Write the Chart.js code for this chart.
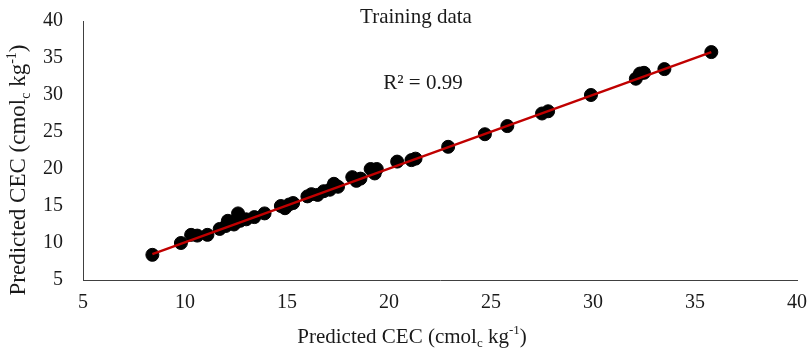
<!DOCTYPE html>
<html lang="en">
<head>
    <meta charset="UTF-8">
    <title>Training data</title>
    <script src="https://cdn.jsdelivr.net/npm/chart.js"></script>
    <style>
      * { margin: 0; padding: 0; }
      body { background: #fff; }
      .chartBox { width: 812px; height: 353px; }
    </style>
</head>
<body>
  <div class="chartBox">
    <canvas id="myChart" width="812" height="353"></canvas>
  </div>
  <script>
    const observed = [8.4, 9.8, 10.3, 10.6, 11.1, 11.7, 12.0, 12.1, 12.4, 12.6, 12.7, 13.0, 13.4, 13.9,
      14.7, 14.9, 15.1, 15.3, 16.0, 16.2, 16.5, 16.8, 17.1, 17.3, 17.5, 18.2, 18.4, 18.6, 19.1, 19.3,
      19.4, 20.4, 21.1, 21.3, 22.9, 24.7, 25.8, 27.5, 27.8, 29.9, 32.1, 32.3, 32.5, 33.5, 35.8];
    const predicted = [8.4, 10.0, 11.1, 11.0, 11.1, 11.9, 12.3, 13.0, 12.5, 14.0, 13.0, 13.2, 13.5, 14.0,
      15.0, 14.7, 15.2, 15.4, 16.3, 16.6, 16.5, 17.0, 17.2, 18.0, 17.6, 18.9, 18.4, 18.7, 20.0, 19.4,
      20.0, 21.0, 21.2, 21.4, 23.0, 24.7, 25.8, 27.5, 27.8, 30.0, 32.2, 32.9, 33.0, 33.5, 35.8];

    // linear trendline end points
    const trendX = [8.4, 35.8];
    const trendY = [8.5, 35.8];

    const axisMin = 5;
    const axisMax = 40;
    const tickStep = 5;

    const serif = "'Liberation Serif', 'Times New Roman', serif";
    const textColor = '#1a1a1a';

    // draw text with sub / superscript pieces, centred on (x, y)
    function drawRich(ctx, parts, x, y, size) {
      const small = Math.round(size * 0.62);
      let total = 0;
      parts.forEach(p => {
        ctx.font = (p.sub || p.sup ? small : size) + 'px ' + serif;
        p.w = ctx.measureText(p.t).width;
        total += p.w;
      });
      let cx = x - total / 2;
      ctx.textAlign = 'left';
      ctx.textBaseline = 'middle';
      parts.forEach(p => {
        ctx.font = (p.sub || p.sup ? small : size) + 'px ' + serif;
        let dy = 0;
        if (p.sub) dy = size * 0.3;
        if (p.sup) dy = -size * 0.3;
        ctx.fillText(p.t, cx, y + dy);
        cx += p.w;
      });
    }

    const axisTitle = [
      { t: 'Predicted CEC (cmol' }, { t: 'c', sub: true }, { t: ' kg' }, { t: '-1', sup: true }, { t: ')' }
    ];

    const textPlugin = {
      id: 'textPlugin',
      afterDraw(chart) {
        const ctx = chart.ctx;
        ctx.save();
        ctx.fillStyle = textColor;
        ctx.textAlign = 'center';
        ctx.textBaseline = 'middle';
        ctx.font = '21px ' + serif;
        ctx.fillText('Training data', 416, 17);
        ctx.fillText('R² = 0.99', 423, 83);

        // x title
        drawRich(ctx, axisTitle, 412, 337, 21);

        // y title
        ctx.save();
        ctx.translate(19, 170);
        ctx.rotate(-Math.PI / 2);
        drawRich(ctx, axisTitle, 0, 0, 23);
        ctx.restore();
        ctx.restore();
      }
    };

    const points = observed.map((v, i) => ({ x: v, y: predicted[i] }));
    const trend = trendX.map((v, i) => ({ x: v, y: trendY[i] }));

    const config = {
      type: 'scatter',
      data: {
        datasets: [{
          label: 'Trend',
          data: trend,
          showLine: true,
          borderColor: '#c00000',
          borderWidth: 2.5,
          pointRadius: 0,
          order: 0
        }, {
          label: 'Training data',
          data: points,
          backgroundColor: '#000',
          borderColor: '#000',
          borderWidth: 1,
          pointRadius: 6.5,
          order: 1
        }]
      },
      options: {
        responsive: false,
        animation: false,
        layout: { padding: { left: 0, right: 15, top: 21, bottom: 0 } },
        plugins: {
          legend: { display: false },
          tooltip: { enabled: false }
        },
        scales: {
          x: {
            type: 'linear',
            min: axisMin,
            max: axisMax,
            // fixed axis band, no extra padding for end labels
            afterFit(scale) {
              scale.height = 73;
              scale.paddingLeft = 0;
              scale.paddingRight = 0;
            },
            grid: { display: false, drawTicks: false },
            border: { display: true, color: '#404040', width: 1 },
            ticks: {
              stepSize: tickStep,
              padding: 11,
              color: textColor,
              font: { family: serif, size: 20 }
            }
          },
          y: {
            type: 'linear',
            min: axisMin,
            max: axisMax,
            afterFit(scale) {
              scale.width = 83;
              scale.paddingTop = 0;
              scale.paddingBottom = 0;
            },
            grid: { display: false, drawTicks: false },
            border: { display: true, color: '#404040', width: 1 },
            ticks: {
              stepSize: tickStep,
              padding: 20,
              color: textColor,
              font: { family: serif, size: 20 }
            }
          }
        }
      },
      plugins: [textPlugin]
    };

    const myChart = new Chart(document.getElementById('myChart'), config);
  </script>
</body>
</html>
